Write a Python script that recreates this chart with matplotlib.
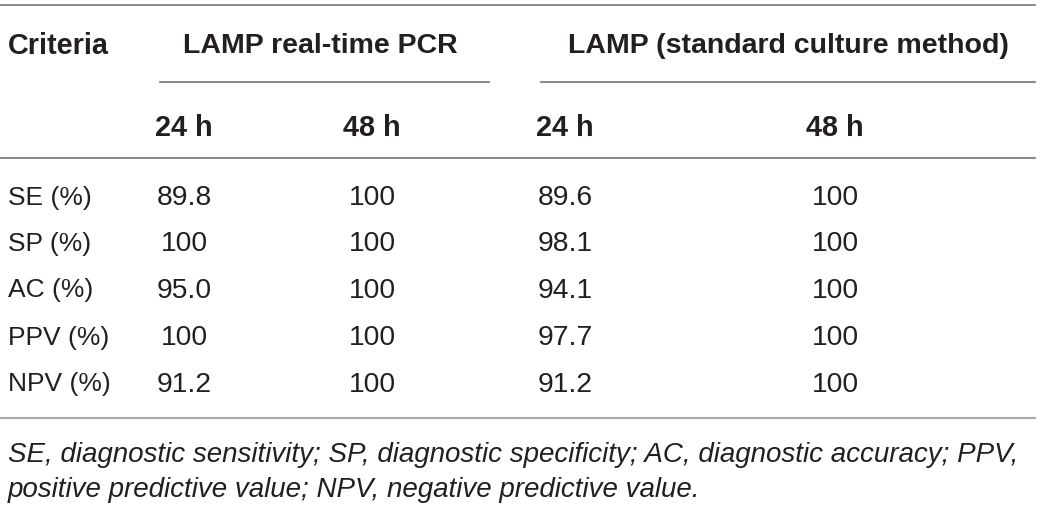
import matplotlib
matplotlib.use("Agg")
import matplotlib.pyplot as plt
from matplotlib.lines import Line2D

# ---- data ----
criteria = ["SE (%)", "SP (%)", "AC (%)", "PPV (%)", "NPV (%)"]
rt_24h = [89.8, 100, 95.0, 100, 91.2]
rt_48h = [100, 100, 100, 100, 100]
sc_24h = [89.6, 98.1, 94.1, 97.7, 91.2]
sc_48h = [100, 100, 100, 100, 100]
group_labels = ["LAMP real-time PCR", "LAMP (standard culture method)"]
sub_labels = ["24 h", "48 h", "24 h", "48 h"]
first_header = "Criteria"
footnote = ["SE, diagnostic sensitivity; SP, diagnostic specificity; AC, diagnostic accuracy; PPV,",
            "positive predictive value; NPV, negative predictive value."]

W, H = 1041, 505
fig = plt.figure(figsize=(W / 100, H / 100), dpi=100)
fig.patch.set_facecolor("white")
FONT = "Liberation Sans"
TXT = "#231f20"


def fx(x):
    return x / W


def fy(y):
    return 1 - y / H


def fmt(v):
    return "100" if v == 100 else f"{v:.1f}"


def txt(x, y, s, ha="left", weight="normal", style="normal", size=19):
    fig.text(fx(x), fy(y), s, ha=ha, va="center_baseline", fontsize=size,
             fontweight=weight, fontstyle=style, family=FONT, color=TXT)


def hline(x0, x1, y, color="#808080", lw=1.3):
    fig.add_artist(Line2D([fx(x0), fx(x1)], [fy(y), fy(y)], color=color, lw=lw,
                          transform=fig.transFigure))


# lines
hline(0, 1035, 5)
hline(160, 489, 82)
hline(541, 1035, 82)
hline(0, 1035, 158)
hline(0, 1035, 418, color="#a8a8a8", lw=1.5)

# header
txt(8, 43, first_header, weight="bold", size=20.8)
txt(320, 43, group_labels[0], ha="center", weight="bold", size=20.5)
txt(788, 43, group_labels[1], ha="center", weight="bold", size=20.5)

col_x = [184, 372, 565, 835]
for cx, lab in zip(col_x, sub_labels):
    txt(cx, 125, lab, ha="center", weight="bold", size=20.8)

row_y = [195, 241, 288, 335, 382]
cols = [rt_24h, rt_48h, sc_24h, sc_48h]
for i, (ry, c) in enumerate(zip(row_y, criteria)):
    txt(8, ry, c, size=19)
    for cx, col in zip(col_x, cols):
        txt(cx, ry, fmt(col[i]), ha="center", size=20.3)

txt(8, 452, footnote[0], style="italic", size=20)
txt(8, 487, footnote[1], style="italic", size=20)

fig.savefig("out.png", dpi=100, facecolor="white")
